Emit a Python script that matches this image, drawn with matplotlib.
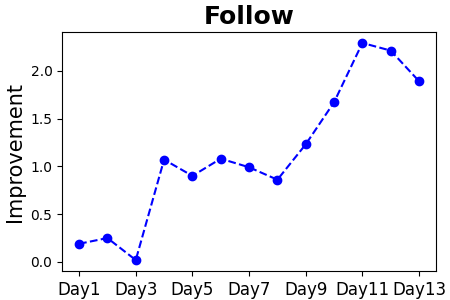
import matplotlib
matplotlib.use("Agg")
import matplotlib.pyplot as plt

# Data
days = [f"Day{i}" for i in range(1, 14)]
improvement = [0.19, 0.25, 0.02, 1.07, 0.90, 1.08, 0.99, 0.86, 1.23, 1.67, 2.29, 2.21, 1.89]

fig, ax = plt.subplots(figsize=(4.5, 3), dpi=100)
fig.subplots_adjust(left=0.138, right=0.969, top=0.893, bottom=0.097)

x = list(range(len(days)))
ax.plot(x, improvement, "o--", color="blue")

ax.set_xticks(x[::2])
ax.set_xticklabels(days[::2], fontsize=12)
ax.set_ylabel("Improvement", fontsize=15)
ax.set_title("Follow", fontsize=18, fontweight="bold")

fig.savefig("out.png")
